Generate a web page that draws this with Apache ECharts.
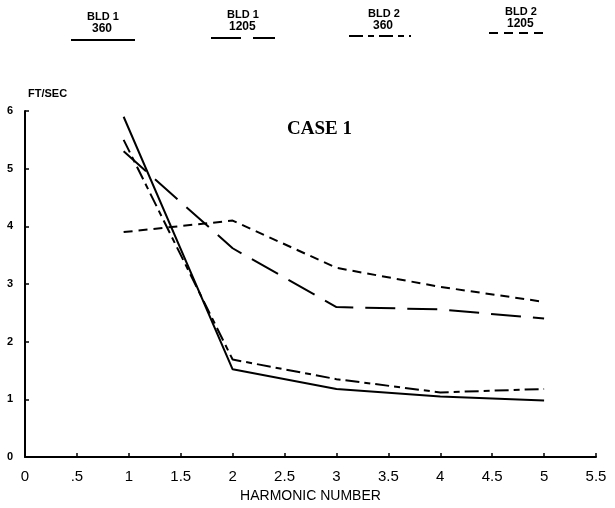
<!DOCTYPE html>
<html>
<head>
<meta charset="utf-8">
<script src="https://cdn.jsdelivr.net/npm/echarts@6/dist/echarts.min.js"></script>
<style>
  html, body { margin: 0; padding: 0; background: #fff; }
  #chartmain { width: 615px; height: 508px; }
</style>
</head>
<body>
<div id="chartmain"></div>
<script>
// harmonic numbers (first point drawn slightly left of 1 in the original)
var harmonics = [0.95, 2, 3, 4, 5];
// FT/SEC values
var bld1_360  = [5.9, 1.52, 1.18, 1.05, 0.98];
var bld1_1205 = [5.3, 3.62, 2.6, 2.56, 2.4];
var bld2_360  = [5.5, 1.69, 1.35, 1.12, 1.18];
var bld2_1205 = [3.9, 4.1, 3.28, 2.95, 2.69];
var seriesNames = ['BLD 1 360', 'BLD 1 1205', 'BLD 2 360', 'BLD 2 1205'];

function pairs(ys) {
  return ys.map(function (y, i) { return [harmonics[i], y]; });
}

window.onload = function () {
  var font = '"Liberation Sans Narrow", "Liberation Sans", Arial, sans-serif';

  function legendItem(name, left, top, width) {
    return {
      data: [name],
      left: left,
      top: top,
      itemWidth: width,
      itemHeight: 6,
      padding: 0,
      selectedMode: false,
      itemStyle: { opacity: 0 },
      formatter: function () { return ''; }
    };
  }

  function txt(text, left, top, size) {
    return { type: 'text', left: left, top: top,
      style: { text: text, font: 'bold ' + size + 'px ' + font, fill: '#000' } };
  }

  var option = {
    backgroundColor: '#fff',
    animation: false,
    color: ['#000', '#000', '#000', '#000'],
    title: {
      text: 'CASE 1',
      left: 282,
      top: 115,
      textStyle: {
        fontFamily: '"Liberation Serif", "DejaVu Serif", serif',
        fontWeight: 'bold',
        fontSize: 19,
        color: '#000'
      }
    },
    legend: [
      legendItem(seriesNames[0], 70, 37, 64),
      legendItem(seriesNames[1], 210, 35, 64),
      legendItem(seriesNames[2], 348, 33, 62),
      legendItem(seriesNames[3], 488, 30, 60)
    ],
    graphic: [
      txt('BLD 1', 87, 11, 11), txt('360', 92, 23, 12),
      txt('BLD 1', 227, 9, 11), txt('1205', 229, 21, 12),
      txt('BLD 2', 368, 8, 11), txt('360', 373, 20, 12),
      txt('BLD 2', 505, 6, 11), txt('1205', 507, 18, 12)
    ],
    grid: {
      left: 25,
      right: 19,
      top: 111,
      bottom: 41
    },
    xAxis: {
      type: 'value',
      min: 0,
      max: 5.5,
      interval: 0.5,
      name: 'HARMONIC NUMBER',
      nameLocation: 'middle',
      nameGap: 32,
      nameTextStyle: { fontFamily: font, fontSize: 14, color: '#000' },
      axisLine: { lineStyle: { color: '#000', width: 2 } },
      axisTick: { inside: true, length: 4, lineStyle: { color: '#000', width: 1.5 } },
      axisLabel: {
        color: '#000',
        fontFamily: font,
        fontSize: 15,
        margin: 12,
        formatter: function (v) { return v === 0.5 ? '.5' : String(v); }
      },
      splitLine: { show: false }
    },
    yAxis: {
      type: 'value',
      min: 0,
      max: 6,
      interval: 1,
      name: 'FT/SEC',
      nameLocation: 'end',
      nameGap: 12,
      nameTextStyle: {
        fontFamily: font,
        fontSize: 11,
        fontWeight: 'bold',
        color: '#000',
        align: 'left',
        padding: [0, 0, 0, 3]
      },
      axisLine: { show: true, lineStyle: { color: '#000', width: 2 } },
      axisTick: { show: true, inside: true, length: 4, lineStyle: { color: '#000', width: 1.5 } },
      axisLabel: {
        color: '#000',
        fontFamily: font,
        fontSize: 11,
        fontWeight: 'bold',
        margin: 12
      },
      splitLine: { show: false }
    },
    series: [
      {
        name: seriesNames[0],
        type: 'line',
        symbol: 'none',
        data: pairs(bld1_360),
        lineStyle: { color: '#000', width: 2, type: 'solid' }
      },
      {
        name: seriesNames[1],
        type: 'line',
        symbol: 'none',
        data: pairs(bld1_1205),
        lineStyle: { color: '#000', width: 2, type: [30, 12] }
      },
      {
        name: seriesNames[2],
        type: 'line',
        symbol: 'none',
        data: pairs(bld2_360),
        lineStyle: { color: '#000', width: 2, type: [14, 5, 6, 5] }
      },
      {
        name: seriesNames[3],
        type: 'line',
        symbol: 'none',
        data: pairs(bld2_1205),
        lineStyle: { color: '#000', width: 2, type: [9, 6] }
      }
    ]
  };

  var myChart = echarts.init(document.getElementById('chartmain'));
  myChart.setOption(option);
};
</script>
</body>
</html>
